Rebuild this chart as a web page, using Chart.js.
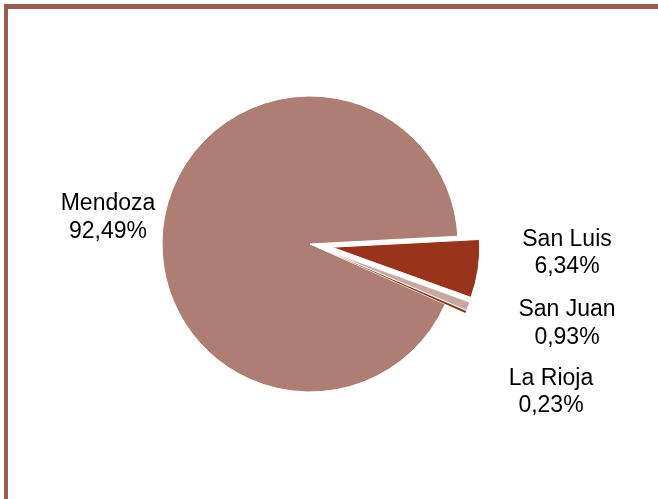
<!DOCTYPE html>
<html>
<head>
<meta charset="utf-8">
<script src="https://cdn.jsdelivr.net/npm/chart.js@4.4.1/dist/chart.umd.min.js"></script>
<style>
  html, body { margin: 0; padding: 0; background: #fff; }
  #wrap { position: relative; width: 658px; height: 499px; overflow: hidden; }
  #frame { position: absolute; left: 4px; top: 4px; right: -10px; bottom: -10px;
           border-top: 5px solid #9a5d56; border-left: 4px solid #9a5d56; box-sizing: border-box; }
  #c { position: absolute; left: 0; top: 0; }
</style>
</head>
<body>
<div id="wrap">
  <div id="frame"></div>
  <canvas id="c" width="658" height="499"></canvas>
</div>
<script>
const categories = ["Mendoza", "San Luis", "San Juan", "La Rioja"];
const shares = [92.49, 6.34, 0.93, 0.23];
const valueLabels = ["92,49%", "6,34%", "0,93%", "0,23%"];

const colors = ["#ae7e74", "#98341c", "#c9a7a2", "#7d3810"];
const borderWidths = [1, 1, 0.5, 0];
// explosion distance in px (style only)
const explode = [0, 22, 22, 22];
// label anchor: x centre, baseline of first line (style only)
const labelPos = [[108, 210], [567, 245.5], [567, 316], [551, 384.5]];

class ExplodedPieController extends Chart.PieController {
  draw() {
    const ctx = this.chart.ctx;
    const area = this.chart.chartArea;
    const elements = this._cachedMeta.data || [];
    elements.forEach((arc, i) => {
      if (arc.hidden) return;
      const d = explode[i] || 0;
      const mid = (arc.startAngle + arc.endAngle) / 2;
      ctx.save();
      ctx.translate(Math.cos(mid) * d, Math.sin(mid) * d);
      arc.draw(ctx, area);
      ctx.restore();
    });
  }
}
ExplodedPieController.id = 'explodedPie';
Chart.register(ExplodedPieController);

const labelPlugin = {
  id: 'sliceLabels',
  afterDraw(chart) {
    const ctx = chart.ctx;
    ctx.save();
    ctx.font = '23px "Liberation Sans", Arial, sans-serif';
    ctx.fillStyle = '#000';
    ctx.textAlign = 'center';
    ctx.textBaseline = 'alphabetic';
    categories.forEach((name, i) => {
      const [x, y] = labelPos[i];
      ctx.fillText(name, x, y);
      ctx.fillText(valueLabels[i], x, y + 27.5);
    });
    ctx.restore();
  }
};

new Chart(document.getElementById('c'), {
  type: 'explodedPie',
  data: {
    labels: categories,
    datasets: [{
      data: shares,
      backgroundColor: colors,
      borderColor: '#ffffff',
      borderWidth: borderWidths
    }]
  },
  options: {
    responsive: false,
    animation: false,
    rotation: 114,
    radius: 148,
    layout: { padding: { left: 100, right: 138, top: 85, bottom: 96 } },
    plugins: {
      legend: { display: false },
      tooltip: { enabled: false },
      title: { display: false }
    },
    events: []
  },
  plugins: [labelPlugin]
});
</script>
</body>
</html>
